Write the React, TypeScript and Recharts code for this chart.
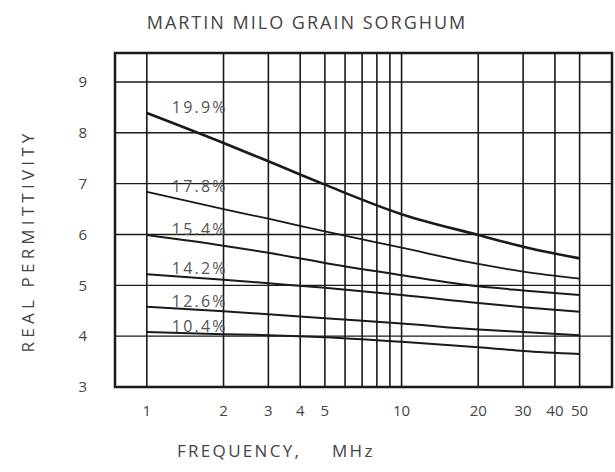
import { LineChart, Line, XAxis, YAxis, ReferenceLine, ReferenceArea } from 'recharts';

// frequency (MHz) at which each curve was read
const FREQ = [1, 2, 3, 5, 10, 20, 30, 50];

// real permittivity per moisture content
const M199 = [8.39, 7.8, 7.44, 6.98, 6.4, 5.99, 5.76, 5.53];
const M178 = [6.84, 6.5, 6.31, 6.06, 5.74, 5.42, 5.27, 5.13];
const M154 = [5.99, 5.78, 5.64, 5.44, 5.2, 4.98, 4.9, 4.81];
const M142 = [5.22, 5.11, 5.04, 4.95, 4.81, 4.65, 4.57, 4.48];
const M126 = [4.58, 4.49, 4.43, 4.35, 4.25, 4.13, 4.08, 4.02];
const M104 = [4.08, 4.04, 4.02, 3.98, 3.89, 3.78, 3.71, 3.65];

const SERIES = [
  { key: 'm199', label: '19.9%', values: M199, width: 2.6 },
  { key: 'm178', label: '17.8%', values: M178, width: 1.8 },
  { key: 'm154', label: '15.4%', values: M154, width: 2 },
  { key: 'm142', label: '14.2%', values: M142, width: 2 },
  { key: 'm126', label: '12.6%', values: M126, width: 2 },
  { key: 'm104', label: '10.4%', values: M104, width: 2 },
];

const X_TICKS = [1, 2, 3, 4, 5, 10, 20, 30, 40, 50];
const X_GRID = [1, 2, 3, 4, 5, 6, 7, 8, 9, 10, 20, 30, 40, 50];
const Y_TICKS = [3, 4, 5, 6, 7, 8, 9];
const Y_GRID = [4, 5, 6, 7, 8, 9];

const X_DOMAIN = [0.75, 67];
const Y_DOMAIN = [3, 9.57];

const data = FREQ.map((f, i) => {
  const row: any = { f };
  SERIES.forEach(s => { row[s.key] = s.values[i]; });
  return row;
});

const INK = '#1a1a1a';
const TEXT = '#444';
const FONT = '"Open Sans", "DejaVu Sans", sans-serif';

const curveLabel = (text: string) => (props: any) => {
  const { x, y, index } = props;
  if (index !== 0) return null;
  return (
    <text x={x + 25} y={y} fill="#555" fontSize={16} fontFamily={FONT} letterSpacing={2.2}>
      {text}
    </text>
  );
};

export default function App() {
  return (
    <div style={{ position: 'absolute', left: 0, top: 0, width: 615, height: 472, background: '#fff', fontFamily: FONT, color: TEXT }}>
      <div style={{ position: 'absolute', left: 307, top: 22, transform: 'translate(-50%, -50%)', whiteSpace: 'nowrap', fontSize: 18, letterSpacing: 2 }}>
        MARTIN MILO GRAIN SORGHUM
      </div>
      <div style={{ position: 'absolute', left: 27, top: 241, transform: 'translate(-50%, -50%) rotate(-90deg)', whiteSpace: 'nowrap', fontSize: 17, letterSpacing: 4.2 }}>
        REAL PERMITTIVITY
      </div>
      <div style={{ position: 'absolute', left: 177, top: 450, transform: 'translateY(-50%)', whiteSpace: 'nowrap', fontSize: 17, letterSpacing: 2.3 }}>
        FREQUENCY,
      </div>
      <div style={{ position: 'absolute', left: 332, top: 450, transform: 'translateY(-50%)', whiteSpace: 'nowrap', fontSize: 17, letterSpacing: 2.3 }}>
        MHz
      </div>
      <LineChart width={615} height={472} data={data} margin={{ top: 53, right: 3, left: 0, bottom: 0 }}>
        <XAxis
          dataKey="f"
          type="number"
          scale="log"
          domain={X_DOMAIN}
          ticks={X_TICKS}
          allowDataOverflow
          axisLine={false}
          tickLine={false}
          tickSize={16}
          height={85}
          tick={{ fill: TEXT, fontSize: 15, fontFamily: FONT }}
        />
        <YAxis
          type="number"
          domain={Y_DOMAIN}
          ticks={Y_TICKS}
          allowDataOverflow
          axisLine={false}
          tickLine={false}
          tickSize={26}
          width={115}
          tick={{ fill: TEXT, fontSize: 15, fontFamily: FONT }}
        />
        {X_GRID.map(v => (
          <ReferenceLine key={`vx-${v}`} x={v} stroke={INK} strokeWidth={1.6} />
        ))}
        {Y_GRID.map(v => (
          <ReferenceLine key={`hy-${v}`} y={v} stroke={INK} strokeWidth={1.4} />
        ))}
        <ReferenceArea
          x1={X_DOMAIN[0]}
          x2={X_DOMAIN[1]}
          y1={Y_DOMAIN[0]}
          y2={Y_DOMAIN[1]}
          fill="none"
          fillOpacity={0}
          stroke={INK}
          strokeWidth={2.5}
        />
        {SERIES.map(s => (
          <Line
            key={s.key}
            dataKey={s.key}
            type="monotone"
            stroke={INK}
            strokeWidth={s.width}
            dot={false}
            isAnimationActive={false}
            label={curveLabel(s.label)}
          />
        ))}
      </LineChart>
    </div>
  );
}
